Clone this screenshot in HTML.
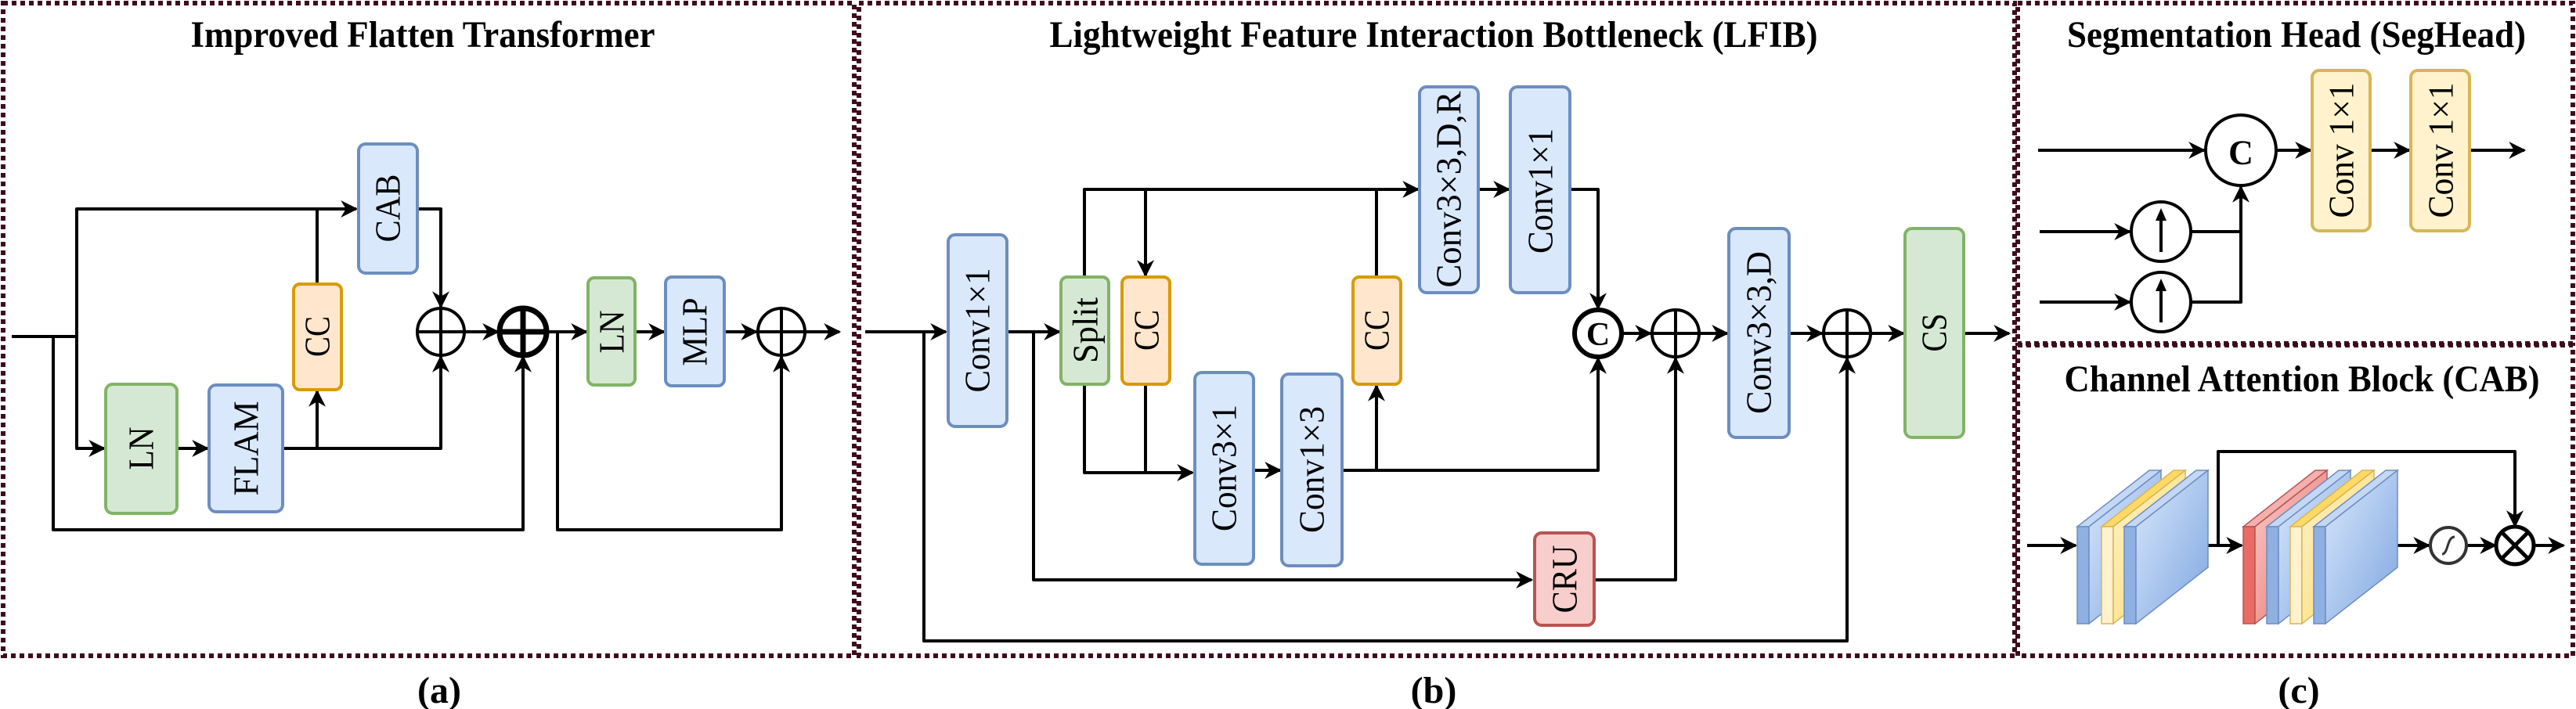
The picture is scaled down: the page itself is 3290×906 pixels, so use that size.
<!DOCTYPE html>
<html><head><meta charset="utf-8"><style>
html,body{margin:0;padding:0;background:#fff;width:3290px;height:906px;overflow:hidden}
svg{display:block}
text{font-family:"Liberation Serif",serif;fill:#000}
.t{font-weight:bold;font-size:48px}
.l{font-size:46px}
.w{fill:none;stroke:#000;stroke-width:4;stroke-linejoin:round}
.bd{fill:none;stroke:#3d0c1e;stroke-width:6;stroke-dasharray:6 5}
.bl{fill:#dae8fc;stroke:#6c8ebf;stroke-width:4}
.gr{fill:#d5e8d4;stroke:#82b366;stroke-width:4}
.or{fill:#ffe6cc;stroke:#d79b00;stroke-width:4}
.rd{fill:#f8cecc;stroke:#b85450;stroke-width:4}
.ye{fill:#fff2cc;stroke:#d6b656;stroke-width:4}
</style></head><body>
<svg width="3290" height="906" viewBox="0 0 3290 906" xmlns="http://www.w3.org/2000/svg">
<defs>
<marker id="a" viewBox="0 0 10 10" refX="9" refY="5" markerWidth="26" markerHeight="22" markerUnits="userSpaceOnUse" orient="auto"><path d="M0,0 L10,5 L0,10 L3,5 z" fill="#000"/></marker>
<linearGradient id="gb" x1="0" y1="0" x2="1" y2="1"><stop offset="0" stop-color="#dae8fc"/><stop offset="1" stop-color="#7ea6e0"/></linearGradient>
<linearGradient id="gy" x1="0" y1="0" x2="1" y2="1"><stop offset="0" stop-color="#fff2cc"/><stop offset="1" stop-color="#ffd966"/></linearGradient>
<linearGradient id="gr" x1="0" y1="0" x2="1" y2="1"><stop offset="0" stop-color="#f8cecc"/><stop offset="1" stop-color="#ea6b66"/></linearGradient>
</defs>

<!-- borders -->
<rect class="bd" x="4" y="4" width="1087" height="834"/>
<rect class="bd" x="1097" y="4" width="1476" height="834"/>
<rect class="bd" x="2577" y="4" width="709" height="435"/>
<rect class="bd" x="2577" y="441" width="709" height="397"/>

<!-- titles -->
<text class="t" x="540" y="60" text-anchor="middle" textLength="593" lengthAdjust="spacingAndGlyphs">Improved Flatten Transformer</text>
<text class="t" x="1831" y="60" text-anchor="middle" textLength="981" lengthAdjust="spacingAndGlyphs">Lightweight Feature Interaction Bottleneck (LFIB)</text>
<text class="t" x="2933" y="60" text-anchor="middle" textLength="586" lengthAdjust="spacingAndGlyphs">Segmentation Head (SegHead)</text>
<text class="t" x="2940" y="500" text-anchor="middle" textLength="607" lengthAdjust="spacingAndGlyphs">Channel Attention Block (CAB)</text>
<text class="t" x="561" y="898" text-anchor="middle" font-size="42">(a)</text>
<text class="t" x="1831" y="898" text-anchor="middle" font-size="42">(b)</text>
<text class="t" x="2936" y="898" text-anchor="middle" font-size="42">(c)</text>

<!-- ===== Panel a ===== -->
<g class="w">
<path d="M15,430 H98 V267 H455" marker-end="url(#a)"/>
<path d="M98,430 V573 H133" marker-end="url(#a)"/>
<path d="M68,430 V677 H668 V456" marker-end="url(#a)"/>
<path d="M226,573 H265" marker-end="url(#a)"/>
<path d="M361,573 H563 V456" marker-end="url(#a)"/>
<path d="M405,573 V500" marker-end="url(#a)"/>
<path d="M405,363 V267"/>
<path d="M533,267 H563 V392" marker-end="url(#a)"/>
<path d="M593,424 H636" marker-end="url(#a)"/>
<path d="M698,424 H749" marker-end="url(#a)"/>
<path d="M712,424 V677 H998 V456" marker-end="url(#a)"/>
<path d="M811,424 H848" marker-end="url(#a)"/>
<path d="M925,424 H966" marker-end="url(#a)"/>
<path d="M1028,424 H1072" marker-end="url(#a)"/>
</g>
<rect class="gr" x="135" y="491" width="91" height="165" rx="9"/>
<rect class="bl" x="267" y="492" width="94" height="162" rx="9"/>
<rect class="or" x="375" y="363" width="61" height="135" rx="8"/>
<rect class="bl" x="458" y="184" width="75" height="165" rx="9"/>
<rect class="gr" x="751" y="355" width="60" height="137" rx="8"/>
<rect class="bl" x="850" y="354" width="75" height="139" rx="8"/>
<g class="l" text-anchor="middle" dominant-baseline="central">
<text transform="translate(180,573) rotate(-90)" textLength="55" lengthAdjust="spacingAndGlyphs">LN</text>
<text transform="translate(314,573) rotate(-90)" textLength="121" lengthAdjust="spacingAndGlyphs">FLAM</text>
<text transform="translate(405,430) rotate(-90)" textLength="52" lengthAdjust="spacingAndGlyphs">CC</text>
<text transform="translate(495,266) rotate(-90)" textLength="87" lengthAdjust="spacingAndGlyphs">CAB</text>
<text transform="translate(781,424) rotate(-90)" textLength="55" lengthAdjust="spacingAndGlyphs">LN</text>
<text transform="translate(887,424) rotate(-90)" textLength="87" lengthAdjust="spacingAndGlyphs">MLP</text>
</g>
<g fill="#fff" stroke="#000">
<circle cx="563" cy="424" r="30" stroke-width="4"/>
<circle cx="668" cy="424" r="30" stroke-width="7"/>
<circle cx="998" cy="424" r="30" stroke-width="4"/>
</g>
<path d="M533,424 H593 M563,394 V454 M998,394 V454 M968,424 H1028" stroke="#000" stroke-width="4"/>
<path d="M638,424 H698 M668,394 V454" stroke="#000" stroke-width="7"/>

<!-- ===== Panel b ===== -->
<g class="w">
<path d="M1105,424 H1208" marker-end="url(#a)"/>
<path d="M1180,424 V819 H2359 V458" marker-end="url(#a)"/>
<path d="M1286,424 H1353" marker-end="url(#a)"/>
<path d="M1320,424 V741 H1956" marker-end="url(#a)"/>
<path d="M1385,354 V242 H1811" marker-end="url(#a)"/>
<path d="M1463,242 V352" marker-end="url(#a)"/>
<path d="M1385,491 V604 H1523" marker-end="url(#a)"/>
<path d="M1463,491 V604"/>
<path d="M1601,601 H1635" marker-end="url(#a)"/>
<path d="M1714,601 H2041 V458" marker-end="url(#a)"/>
<path d="M1758,601 V493" marker-end="url(#a)"/>
<path d="M1758,354 V242"/>
<path d="M1888,242 H1927" marker-end="url(#a)"/>
<path d="M2005,242 H2041 V394" marker-end="url(#a)"/>
<path d="M2071,426 H2108" marker-end="url(#a)"/>
<path d="M2036,741 H2140 V458" marker-end="url(#a)"/>
<path d="M2170,426 H2206" marker-end="url(#a)"/>
<path d="M2285,426 H2327" marker-end="url(#a)"/>
<path d="M2389,426 H2431" marker-end="url(#a)"/>
<path d="M2508,426 H2566" marker-end="url(#a)"/>
</g>
<rect class="bl" x="1211" y="300" width="75" height="245" rx="9"/>
<rect class="gr" x="1355" y="354" width="61" height="137" rx="8"/>
<rect class="or" x="1433" y="354" width="61" height="137" rx="8"/>
<rect class="bl" x="1526" y="476" width="75" height="245" rx="9"/>
<rect class="bl" x="1637" y="478" width="77" height="245" rx="9"/>
<rect class="or" x="1728" y="354" width="61" height="137" rx="8"/>
<rect class="bl" x="1813" y="111" width="75" height="263" rx="9"/>
<rect class="bl" x="1929" y="111" width="76" height="263" rx="9"/>
<rect class="rd" x="1960" y="681" width="76" height="118" rx="9"/>
<rect class="bl" x="2208" y="292" width="77" height="267" rx="9"/>
<rect class="gr" x="2433" y="292" width="75" height="267" rx="9"/>
<g class="l" text-anchor="middle" dominant-baseline="central">
<text transform="translate(1248,422) rotate(-90)" textLength="159" lengthAdjust="spacingAndGlyphs">Conv1×1</text>
<text transform="translate(1386,422) rotate(-90)" textLength="84" lengthAdjust="spacingAndGlyphs">Split</text>
<text transform="translate(1464,422) rotate(-90)" textLength="52" lengthAdjust="spacingAndGlyphs">CC</text>
<text transform="translate(1563,598) rotate(-90)" textLength="162" lengthAdjust="spacingAndGlyphs">Conv3×1</text>
<text transform="translate(1675,600) rotate(-90)" textLength="162" lengthAdjust="spacingAndGlyphs">Conv1×3</text>
<text transform="translate(1758,422) rotate(-90)" textLength="52" lengthAdjust="spacingAndGlyphs">CC</text>
<text transform="translate(1850,242) rotate(-90)" textLength="251" lengthAdjust="spacingAndGlyphs">Conv3×3,D,R</text>
<text transform="translate(1967,244) rotate(-90)" textLength="160" lengthAdjust="spacingAndGlyphs">Conv1×1</text>
<text transform="translate(1998,740) rotate(-90)" textLength="87" lengthAdjust="spacingAndGlyphs">CRU</text>
<text transform="translate(2246,425) rotate(-90)" textLength="208" lengthAdjust="spacingAndGlyphs">Conv3×3,D</text>
<text transform="translate(2470,425) rotate(-90)" textLength="49" lengthAdjust="spacingAndGlyphs">CS</text>
</g>
<g fill="#fff" stroke="#000" stroke-width="4">
<circle cx="2041" cy="426" r="30" stroke-width="6"/>
<circle cx="2140" cy="426" r="30"/>
<circle cx="2359" cy="426" r="30"/>
</g>
<path d="M2110,426 H2170 M2140,396 V456 M2329,426 H2389 M2359,396 V456" stroke="#000" stroke-width="4"/>
<text x="2041" y="428" text-anchor="middle" dominant-baseline="central" font-size="42" font-weight="bold">C</text>

<!-- ===== Panel c top ===== -->
<g class="w">
<path d="M2603,192 H2815" marker-end="url(#a)"/>
<path d="M2605,296 H2720" marker-end="url(#a)"/>
<path d="M2605,386 H2720" marker-end="url(#a)"/>
<path d="M2798,296 H2862 V239" marker-end="url(#a)"/>
<path d="M2798,386 H2862 V296"/>
<path d="M2907,192 H2951" marker-end="url(#a)"/>
<path d="M3027,192 H3077" marker-end="url(#a)"/>
<path d="M3154,192 H3224" marker-end="url(#a)"/>
</g>
<circle cx="2862" cy="192" r="45" fill="#fff" stroke="#000" stroke-width="4"/>
<text x="2862" y="195" text-anchor="middle" dominant-baseline="central" font-size="44" font-weight="bold">C</text>
<circle cx="2760" cy="296" r="38" fill="#fff" stroke="#000" stroke-width="4"/>
<circle cx="2760" cy="386" r="38" fill="#fff" stroke="#000" stroke-width="4"/>
<g stroke="#000" stroke-width="4">
<path d="M2760,322 V272"/><path d="M2760,412 V362"/>
</g>
<path d="M2760,266 L2753,282 L2767,282 z M2760,356 L2753,372 L2767,372 z" fill="#000"/>
<rect class="ye" x="2953" y="90" width="74" height="205" rx="9"/>
<rect class="ye" x="3079" y="90" width="75" height="205" rx="9"/>
<g class="l" text-anchor="middle" dominant-baseline="central">
<text transform="translate(2990,192) rotate(-90)" textLength="173" lengthAdjust="spacingAndGlyphs">Conv 1×1</text>
<text transform="translate(3117,192) rotate(-90)" textLength="173" lengthAdjust="spacingAndGlyphs">Conv 1×1</text>
</g>

<!-- ===== Panel c bottom (CAB) ===== -->
<g class="w">
<path d="M2589,697 H2651" marker-end="url(#a)"/>
<path d="M2804,697 H2863" marker-end="url(#a)"/>
<path d="M2833,697 V577 H3212 V672" marker-end="url(#a)"/>
<path d="M3047,697 H3102" marker-end="url(#a)"/>
<path d="M3150,697 H3187" marker-end="url(#a)"/>
<path d="M3236,697 H3274" marker-end="url(#a)"/>
</g>
<!-- slabs: strip x, w=15, face dx=92 dy=72, h=124 -->
<g stroke-width="1.5">
<g stroke="#6c8ebf"><polygon points="2653,673 2668,673 2760,601 2745,601" fill="#c4d8f5"/><rect x="2653" y="673" width="15" height="124" fill="#8fb0e3"/><polygon points="2668,673 2760,601 2760,725 2668,797" fill="url(#gb)"/></g>
<g stroke="#d6b656"><polygon points="2684,673 2699,673 2791,601 2776,601" fill="#ffd966"/><rect x="2684" y="673" width="15" height="124" fill="#fff2cc"/><polygon points="2699,673 2791,601 2791,725 2699,797" fill="url(#gy)"/></g>
<g stroke="#6c8ebf"><polygon points="2713,673 2728,673 2820,601 2805,601" fill="#c4d8f5"/><rect x="2713" y="673" width="15" height="124" fill="#8fb0e3"/><polygon points="2728,673 2820,601 2820,725 2728,797" fill="url(#gb)"/></g>
<g stroke="#b85450"><polygon points="2865,673 2880,673 2972,601 2957,601" fill="#f4b0ae"/><rect x="2865" y="673" width="15" height="124" fill="#ea6b66"/><polygon points="2880,673 2972,601 2972,725 2880,797" fill="url(#gr)"/></g>
<g stroke="#6c8ebf"><polygon points="2895,673 2910,673 3002,601 2987,601" fill="#c4d8f5"/><rect x="2895" y="673" width="15" height="124" fill="#8fb0e3"/><polygon points="2910,673 3002,601 3002,725 2910,797" fill="url(#gb)"/></g>
<g stroke="#d6b656"><polygon points="2925,673 2940,673 3032,601 3017,601" fill="#ffd966"/><rect x="2925" y="673" width="15" height="124" fill="#fff2cc"/><polygon points="2940,673 3032,601 3032,725 2940,797" fill="url(#gy)"/></g>
<g stroke="#6c8ebf"><polygon points="2955,673 2970,673 3062,601 3047,601" fill="#c4d8f5"/><rect x="2955" y="673" width="15" height="124" fill="#8fb0e3"/><polygon points="2970,673 3062,601 3062,725 2970,797" fill="url(#gb)"/></g>
</g>
<circle cx="3127" cy="697" r="23" fill="#fff" stroke="#333" stroke-width="4"/>
<path d="M3119,708 C3127,708 3125,686 3135,686" fill="none" stroke="#333" stroke-width="3"/>
<circle cx="3212" cy="697" r="24" fill="#fff" stroke="#000" stroke-width="5"/>
<path d="M3195,680 L3229,714 M3229,680 L3195,714" stroke="#000" stroke-width="5"/>
</svg>
</body></html>
